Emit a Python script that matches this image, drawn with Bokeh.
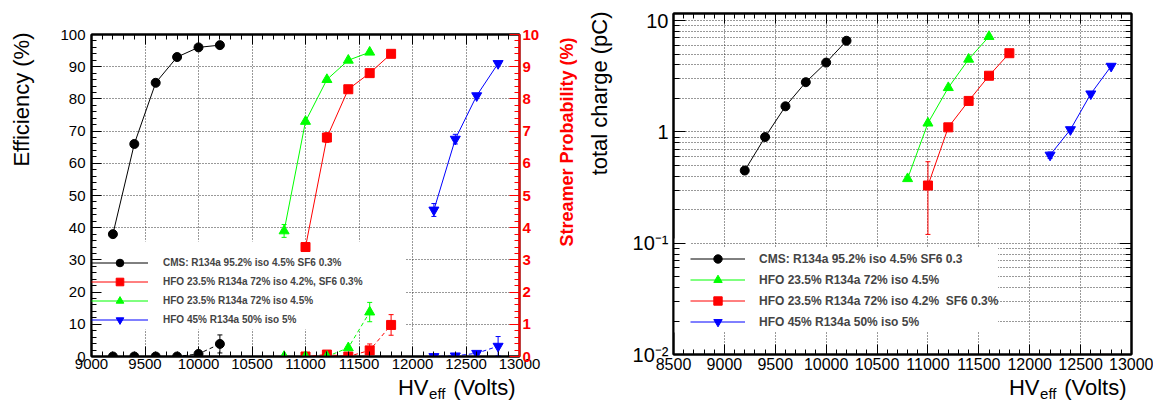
import math
from bokeh.plotting import figure
from bokeh.models import (Range1d, LinearAxis, LogAxis, SingleIntervalTicker, FixedTicker,
                          ColumnDataSource, Whisker, TeeHead, Legend, LegendItem, Label,
                          BoxAnnotation)
from bokeh.layouts import row, column
from bokeh.embed import file_html
from bokeh.resources import INLINE

FONT = "Liberation Sans"

# ---------------- data ----------------
hv_cms = [9200, 9400, 9600, 9800, 10000, 10200]
eff_cms = [38, 66, 85, 93, 96, 96.7]
eff_cms_err = [0, 0, 0, 0, 0, 0]
str_cms = [0, 0, 0, 0, 0.08, 0.39]
str_cms_err = [0, 0, 0, 0, 0.04, 0.28]
charge_cms = [0.45, 0.9, 1.7, 2.8, 4.2, 6.6]
charge_cms_err = [0.03, 0, 0, 0, 0, 0]

hv_hfo_sf6 = [11000, 11200, 11400, 11600, 11800]
eff_hfo_sf6 = [34, 68, 83, 88, 94]
eff_hfo_sf6_err = [0, 1.5, 0, 0, 0]
str_hfo_sf6 = [0, 0.06, 0, 0.19, 0.98]
str_hfo_sf6_err = [0, 0, 0, 0.2, 0.32]
charge_hfo_sf6 = [0.33, 1.1, 1.9, 3.2, 5.1]
charge_hfo_sf6_err = [0.21, 0.06, 0, 0, 0]

hv_hfo = [10800, 11000, 11200, 11400, 11600]
eff_hfo = [39, 73, 86, 92, 94.5]
eff_hfo_err = [2, 0, 0, 0, 0]
str_hfo = [0, 0, 0, 0.27, 1.38]
str_hfo_err = [0, 0, 0, 0.04, 0.3]
charge_hfo = [0.38, 1.2, 2.5, 4.5, 7.2]
charge_hfo_err = [0, 0, 0, 0, 0]

hv_hfo45 = [12200, 12400, 12600, 12800]
eff_hfo45 = [45.5, 67.5, 81, 91]
eff_hfo45_err = [2, 1.5, 0, 0]
str_hfo45 = [0.0, 0.02, 0.1, 0.32]
str_hfo45_err = [0, 0, 0, 0.3]
charge_hfo45 = [0.62, 1.05, 2.2, 3.9]
charge_hfo45_err = [0.04, 0, 0, 0]

labels_left = ["CMS: R134a 95.2% iso 4.5% SF6 0.3%",
               "HFO 23.5% R134a 72% iso 4.2%, SF6 0.3%",
               "HFO 23.5% R134a 72% iso 4.5%",
               "HFO 45% R134a 50% iso 5%"]
labels_right = ["CMS: R134a 95.2% iso 4.5% SF6 0.3",
                "HFO 23.5% R134a 72% iso 4.5%",
                "HFO 23.5% R134a 72% iso 4.2%  SF6 0.3%",
                "HFO 45% R134a 50% iso 5%"]

series = {
    "cms": dict(hv=hv_cms, eff=eff_cms, eff_err=eff_cms_err, st=str_cms, st_err=str_cms_err,
                q=charge_cms, q_err=charge_cms_err, color="#000000", marker="circle", size=9),
    "sf6": dict(hv=hv_hfo_sf6, eff=eff_hfo_sf6, eff_err=eff_hfo_sf6_err, st=str_hfo_sf6,
                st_err=str_hfo_sf6_err, q=charge_hfo_sf6, q_err=charge_hfo_sf6_err,
                color="#ff0000", marker="square", size=9),
    "hfo": dict(hv=hv_hfo, eff=eff_hfo, eff_err=eff_hfo_err, st=str_hfo, st_err=str_hfo_err,
                q=charge_hfo, q_err=charge_hfo_err, color="#00ff00", marker="triangle", size=10),
    "hfo45": dict(hv=hv_hfo45, eff=eff_hfo45, eff_err=eff_hfo45_err, st=str_hfo45,
                  st_err=str_hfo45_err, q=charge_hfo45, q_err=charge_hfo45_err,
                  color="#0000ff", marker="inverted_triangle", size=10),
}

H = 377  # height of the two chart panels; a text strip sits below


def style_axis(ax, size="15px", color="black", bold=False, tick_in=10, minor_in=5,
               show_labels=True, standoff=3):
    ax.major_tick_in = tick_in
    ax.major_tick_out = 0
    ax.minor_tick_in = minor_in
    ax.minor_tick_out = 0
    ax.axis_line_color = color
    ax.axis_line_width = 2
    ax.major_tick_line_color = color
    ax.minor_tick_line_color = color
    ax.major_tick_line_width = 1
    ax.minor_tick_line_width = 1
    ax.major_label_text_font = FONT
    ax.major_label_text_font_style = "bold" if bold else "normal"
    if show_labels:
        ax.major_label_text_font_size = size
        ax.major_label_text_color = color
        ax.major_label_standoff = standoff
    else:
        ax.major_label_text_font_size = "1px"
        ax.major_label_text_color = None
        ax.major_label_standoff = 0
    ax.axis_label = None


def add_err(p, x, y, e, color, y_range_name="default"):
    xs = [a for a, d in zip(x, e) if d > 0]
    lo = [b - d for b, d in zip(y, e) if d > 0]
    hi = [b + d for b, d in zip(y, e) if d > 0]
    if not xs:
        return
    src = ColumnDataSource(dict(base=xs, lower=lo, upper=hi))
    w = Whisker(source=src, base="base", lower="lower", upper="upper", dimension="height",
                line_color=color, line_width=1, y_range_name=y_range_name,
                upper_head=TeeHead(size=5, line_color=color, line_width=1),
                lower_head=TeeHead(size=5, line_color=color, line_width=1))
    p.add_layout(w)


def text_label(p, x, y, text, size, color="black", bold=False, angle=0.0, align="left",
               baseline="alphabetic"):
    p.add_layout(Label(x=x, y=y, x_units="screen", y_units="screen", text=text,
                       text_font=FONT, text_font_size=size, text_color=color,
                       text_font_style="bold" if bold else "normal",
                       angle=angle, angle_units="rad", text_align=align,
                       text_baseline=baseline))


def strip(w, h):
    s = figure(width=w, height=h, x_range=Range1d(0, w), y_range=Range1d(0, h),
               x_axis_type=None, y_axis_type=None, output_backend="svg",
               toolbar_location=None, min_border=0, title_location=None)
    s.outline_line_color = None
    return s


# ---------------- left figure: efficiency + streamer ----------------
p1 = figure(width=508, height=H, x_range=Range1d(9000, 13000), y_range=Range1d(0, 100),
            output_backend="svg", toolbar_location=None, title_location=None,
            min_border_left=51, min_border_right=29, min_border_top=34, min_border_bottom=21)
p1.extra_y_ranges = {"streamer": Range1d(0, 10)}
p1.outline_line_color = "black"
p1.outline_line_width = 2

xt1 = SingleIntervalTicker(interval=500, num_minor_ticks=5)
yt1 = SingleIntervalTicker(interval=10, num_minor_ticks=5)
p1.xaxis[0].ticker = xt1
p1.yaxis[0].ticker = yt1
style_axis(p1.xaxis[0], standoff=2)
style_axis(p1.yaxis[0], standoff=6)

top1 = LinearAxis(ticker=xt1)
style_axis(top1, show_labels=False)
p1.add_layout(top1, "above")
right1 = LinearAxis(y_range_name="streamer",
                    ticker=SingleIntervalTicker(interval=1, num_minor_ticks=5))
style_axis(right1, color="#ff0000", bold=True, standoff=3)
p1.add_layout(right1, "right")

for g in p1.grid:
    g.grid_line_color = "#333333"
    g.grid_line_dash = "1 2"
    g.grid_line_width = 1

# white patch behind the legend (hides grid only; data are drawn on top)
p1.add_layout(BoxAnnotation(left=0, right=314, bottom=27, top=115,
                            left_units="screen", right_units="screen",
                            bottom_units="screen", top_units="screen",
                            fill_color="white", fill_alpha=1.0, line_color=None,
                            level="underlay"))

rend1 = {}
for key, s in series.items():
    ln = p1.line(s["hv"], s["eff"], line_color=s["color"], line_width=1)
    mk = p1.scatter(s["hv"], s["eff"], marker=s["marker"], size=s["size"],
                    fill_color=s["color"], line_color=s["color"])
    add_err(p1, s["hv"], s["eff"], s["eff_err"], s["color"])
    p1.line(s["hv"], s["st"], y_range_name="streamer", line_color=s["color"],
            line_width=1, line_dash="4 3")
    p1.scatter(s["hv"], s["st"], y_range_name="streamer", marker=s["marker"],
               size=s["size"], fill_color=s["color"], line_color=s["color"])
    add_err(p1, s["hv"], s["st"], s["st_err"], s["color"], y_range_name="streamer")
    rend1[key] = [ln, mk]

order1 = ["cms", "sf6", "hfo", "hfo45"]
leg1 = Legend(items=[LegendItem(label=lab, renderers=rend1[k]) for k, lab in zip(order1, labels_left)],
              location=(0, 27), padding=6, spacing=0, glyph_width=57, glyph_height=19,
              label_height=19, label_width=230, label_standoff=15,
              label_text_font=FONT, label_text_font_size="10px", label_text_font_style="bold",
              background_fill_alpha=0.0, border_line_color=None, margin=0)
p1.add_layout(leg1)

# ---------------- right figure: total charge ----------------
p2 = figure(width=525, height=H, x_range=Range1d(8500, 13000), y_range=Range1d(0.01, 11.6),
            y_axis_type="log", output_backend="svg", toolbar_location=None,
            title_location=None,
            min_border_left=45, min_border_right=22, min_border_top=13, min_border_bottom=23)
p2.outline_line_color = "black"
p2.outline_line_width = 2

xt2 = SingleIntervalTicker(interval=500, num_minor_ticks=5)
major_q = [0.01, 0.1, 1, 10]
minor_q = [k * m for m in (0.01, 0.1, 1, 10) for k in range(2, 10) if k * m < 11.6]
yt2 = FixedTicker(ticks=major_q, minor_ticks=minor_q)
p2.xaxis[0].ticker = xt2
p2.yaxis[0].ticker = yt2
style_axis(p2.xaxis[0], size="16px", standoff=3)
style_axis(p2.yaxis[0], size="20px", tick_in=12, minor_in=6, standoff=5)
p2.yaxis[0].major_label_overrides = {0.01: "10⁻²", 0.1: "10⁻¹", 1: "1", 10: "10"}

top2 = LinearAxis(ticker=xt2)
style_axis(top2, show_labels=False)
p2.add_layout(top2, "above")
right2 = LogAxis(ticker=yt2)
style_axis(right2, show_labels=False, tick_in=12, minor_in=6)
p2.add_layout(right2, "right")

for g in p2.grid:
    g.grid_line_color = "#333333"
    g.grid_line_dash = "1 2"
    g.grid_line_width = 1
p2.ygrid[0].minor_grid_line_color = "#333333"
p2.ygrid[0].minor_grid_line_dash = "1 2"
p2.ygrid[0].minor_grid_line_width = 1

rend2 = {}
for key, s in series.items():
    ln = p2.line(s["hv"], s["q"], line_color=s["color"], line_width=1)
    mk = p2.scatter(s["hv"], s["q"], marker=s["marker"], size=s["size"],
                    fill_color=s["color"], line_color=s["color"])
    add_err(p2, s["hv"], s["q"], s["q_err"], s["color"])
    rend2[key] = [ln, mk]

order2 = ["cms", "hfo", "sf6", "hfo45"]
leg2 = Legend(items=[LegendItem(label=lab, renderers=rend2[k]) for k, lab in zip(order2, labels_right)],
              location=(17, 22), padding=5, spacing=0, glyph_width=55, glyph_height=21,
              label_height=21, label_width=221, label_standoff=14,
              label_text_font=FONT, label_text_font_size="12px", label_text_font_style="bold",
              background_fill_color="white", background_fill_alpha=1.0,
              border_line_color=None, margin=0)
p2.add_layout(leg2)
p2.add_layout(BoxAnnotation(left=0, right=17, bottom=22, top=116,
                            left_units="screen", right_units="screen",
                            bottom_units="screen", top_units="screen",
                            fill_color="white", fill_alpha=1.0, line_color=None,
                            level="underlay"))

# ---------------- axis-title strips ----------------
s_left = strip(40, H)
text_label(s_left, 21, H - 32, "Efficiency (%)", "22px", angle=math.pi / 2, align="right",
           baseline="middle")

s_mid = strip(80, H)
text_label(s_mid, 18, H - 37, "Streamer Probability (%)", "18px", color="#ff0000", bold=True,
           angle=math.pi / 2, align="right", baseline="middle")
text_label(s_mid, 51, H - 11, "total charge (pC)", "22px", angle=math.pi / 2, align="right",
           baseline="middle")

s_bot = strip(1153, 401 - H)
text_label(s_bot, 515, 14, "(Volts)", "22px", align="right")
text_label(s_bot, 445, 8, "eff", "15px", align="right")
text_label(s_bot, 428, 14, "HV", "22px", align="right")
text_label(s_bot, 1126, 14, "(Volts)", "22px", align="right")
text_label(s_bot, 1056, 8, "eff", "15px", align="right")
text_label(s_bot, 1039, 14, "HV", "22px", align="right")

# each panel wrapped in its own column so that frames are not aligned across the row
top_row = row(column(s_left), column(p1), column(s_mid), column(p2))
layout = column(top_row, column(s_bot))
open("out.html", "w").write(file_html(layout, INLINE))
